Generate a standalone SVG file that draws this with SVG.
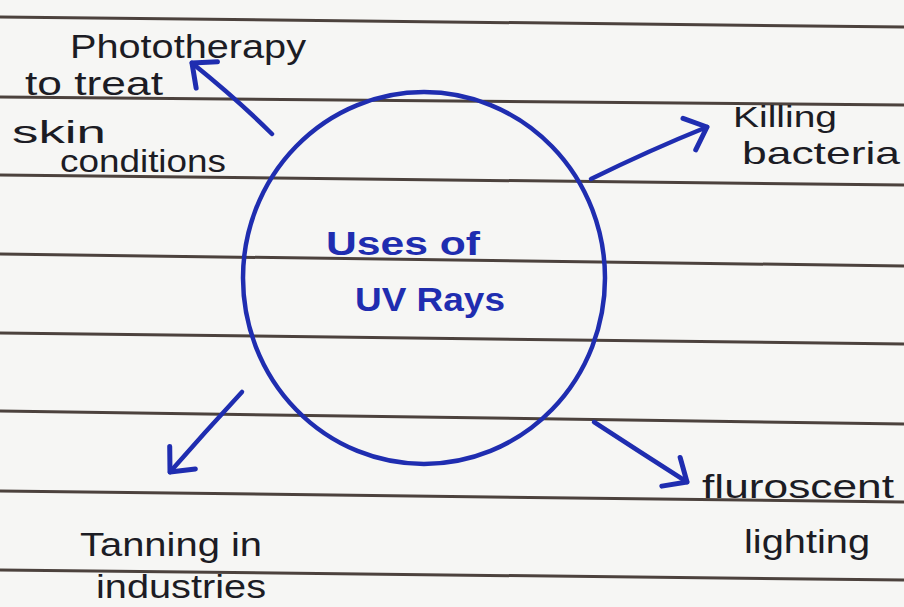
<svg xmlns="http://www.w3.org/2000/svg" width="904" height="607" viewBox="0 0 904 607">
  <defs>
    <style>
      .rule { stroke: #4c423d; stroke-width: 3; fill: none; }
      .ink { stroke: #1f2db0; stroke-width: 4.5; fill: none; stroke-linecap: round; stroke-linejoin: round; }
      .hand { font-family: "Liberation Sans", "DejaVu Sans", sans-serif; fill: #1c1c24; font-size: 34px; }
      .blue { font-family: "Liberation Sans", "DejaVu Sans", sans-serif; fill: #1f2db0; font-size: 34px; font-weight: bold; }
    </style>
    <marker id="arrow" markerUnits="userSpaceOnUse" markerWidth="60" markerHeight="60" refX="0" refY="0" orient="auto" overflow="visible">
      <path d="M -19 -17 L 0 0 L -19 17" fill="none" stroke="#1f2db0" stroke-width="5" stroke-linecap="round" stroke-linejoin="round"/>
    </marker>
  </defs>

  <rect x="0" y="0" width="904" height="607" fill="#f6f6f4"/>

  <g id="ruling">
    <line class="rule" x1="0" y1="17" x2="904" y2="27"/>
    <line class="rule" x1="0" y1="97" x2="904" y2="105"/>
    <line class="rule" x1="0" y1="175" x2="904" y2="185"/>
    <line class="rule" x1="0" y1="254" x2="904" y2="266"/>
    <line class="rule" x1="0" y1="333" x2="904" y2="344"/>
    <line class="rule" x1="0" y1="411" x2="904" y2="424"/>
    <line class="rule" x1="0" y1="491" x2="904" y2="502"/>
    <line class="rule" x1="0" y1="570" x2="904" y2="580"/>
  </g>

  <g id="center">
    <ellipse class="ink" cx="424" cy="278" rx="181" ry="186"/>
    <text class="blue" x="326" y="255" textLength="154" lengthAdjust="spacingAndGlyphs">Uses of</text>
    <text class="blue" x="355" y="311" textLength="150" lengthAdjust="spacingAndGlyphs">UV Rays</text>
  </g>

  <g id="connectors">
    <path class="ink" d="M 272 134 Q 238 100 192 63" marker-end="url(#arrow)"/>
    <path class="ink" d="M 591 179 Q 650 150 707 127" marker-end="url(#arrow)"/>
    <path class="ink" d="M 242 392 Q 205 432 170 472" marker-end="url(#arrow)"/>
    <path class="ink" d="M 594 422 Q 640 452 687 482" marker-end="url(#arrow)"/>
  </g>

  <g id="phototherapy">
    <text class="hand" x="70" y="58" textLength="236" lengthAdjust="spacingAndGlyphs">Phototherapy</text>
    <text class="hand" x="25" y="95" textLength="138" lengthAdjust="spacingAndGlyphs">to treat</text>
    <text class="hand" x="12" y="143" style="font-size:32px" textLength="94" lengthAdjust="spacingAndGlyphs">skin</text>
    <text class="hand" x="60" y="172" style="font-size:32px" textLength="166" lengthAdjust="spacingAndGlyphs">conditions</text>
  </g>

  <g id="killing">
    <text class="hand" x="733" y="127" style="font-size:30px" textLength="104" lengthAdjust="spacingAndGlyphs">Killing</text>
    <text class="hand" x="742" y="164" style="font-size:32px" textLength="158" lengthAdjust="spacingAndGlyphs">bacteria</text>
  </g>

  <g id="tanning">
    <text class="hand" x="80" y="556" textLength="182" lengthAdjust="spacingAndGlyphs">Tanning in</text>
    <text class="hand" x="96" y="598" textLength="170" lengthAdjust="spacingAndGlyphs">industries</text>
  </g>

  <g id="fluorescent">
    <text class="hand" x="702" y="498" textLength="192" lengthAdjust="spacingAndGlyphs">fluroscent</text>
    <text class="hand" x="744" y="553" textLength="126" lengthAdjust="spacingAndGlyphs">lighting</text>
  </g>
</svg>
